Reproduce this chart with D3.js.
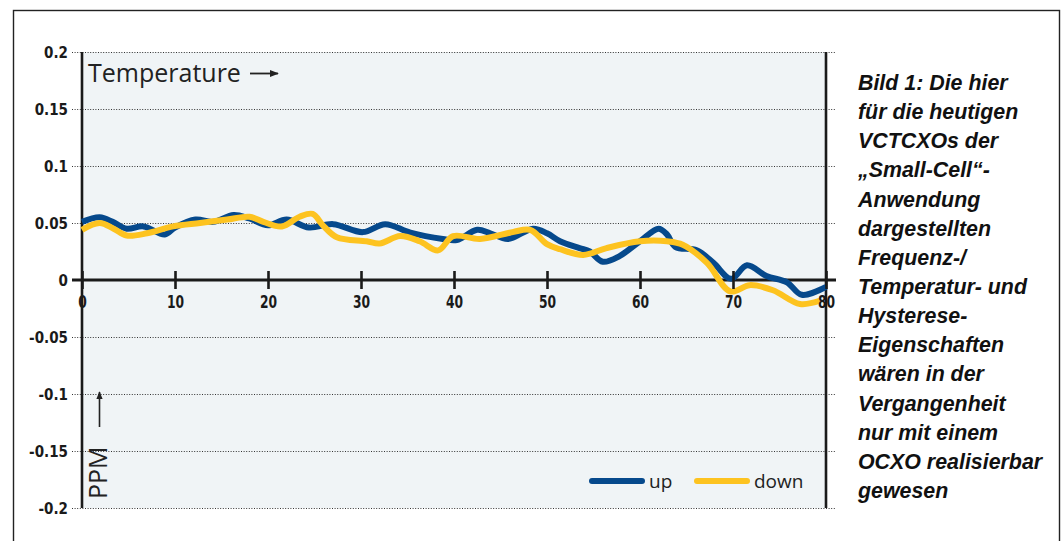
<!DOCTYPE html>
<html>
<head>
<meta charset="utf-8">
<script src="https://cdn.jsdelivr.net/npm/d3@7"></script>
<style>
  html, body { margin: 0; padding: 0; background: #fff; }
  svg { display: block; }
</style>
</head>
<body>
<svg id="chart" width="1064" height="541"></svg>
<script>
// Temperature (°C) readings and frequency deviation (PPM) for the up and down sweeps
const upTemp = [0, 1.9, 3.3, 4.8, 6.6, 8.9, 10, 12.2, 14.1, 16.3, 18, 20, 22, 24.4, 27, 30.2, 32.6, 35.3, 38.8, 40.3, 42.5, 43.9, 45.8, 48.5, 50, 51.4, 53.5, 54.6, 56, 57.8, 60, 62, 62.9, 63.8, 66.1, 67.9, 69.8, 71.5, 73.6, 75.8, 77.4, 80];
const upPPM  = [0.051, 0.055, 0.051, 0.045, 0.047, 0.040, 0.046, 0.053, 0.051, 0.057, 0.054, 0.048, 0.053, 0.046, 0.049, 0.042, 0.049, 0.0415, 0.036, 0.035, 0.044, 0.041, 0.036, 0.045, 0.041, 0.034, 0.028, 0.025, 0.016, 0.021, 0.034, 0.045, 0.040, 0.029, 0.026, 0.015, 0.001, 0.013, 0.0035, -0.002, -0.013, -0.006];

const downTemp = [0, 1.9, 3.4, 4.8, 7, 9.8, 12.7, 15.6, 18, 19.5, 21.5, 23.4, 24.8, 25.9, 27.4, 30.6, 32, 34.2, 36.3, 38.3, 39.9, 42.8, 46.3, 48.2, 50, 51.4, 53.9, 56.4, 60, 62.9, 64.6, 67.2, 69.7, 71.8, 74.3, 77.2, 79.4];
const downPPM  = [0.044, 0.050, 0.045, 0.039, 0.041, 0.047, 0.050, 0.053, 0.0555, 0.051, 0.047, 0.0555, 0.058, 0.048, 0.0375, 0.034, 0.032, 0.0385, 0.034, 0.026, 0.0385, 0.036, 0.042, 0.044, 0.0315, 0.027, 0.022, 0.028, 0.034, 0.034, 0.031, 0.015, -0.010, -0.0045, -0.009, -0.021, -0.018];

const xTicks = [0, 10, 20, 30, 40, 50, 60, 70, 80];
const yTicks = [0.2, 0.15, 0.1, 0.05, 0, -0.05, -0.1, -0.15, -0.2];
const yTickLabels = ["0.2", "0.15", "0.1", "0.05", "0", "-0.05", "-0.1", "-0.15", "-0.2"];

const seriesNames = ["up", "down"];
const seriesColors = ["#06498c", "#fdc320"];

const captionLines = [
  "Bild 1: Die hier",
  "für die heutigen",
  "VCTCXOs der",
  "„Small-Cell“-",
  "Anwendung",
  "dargestellten",
  "Frequenz-/",
  "Temperatur- und",
  "Hysterese-",
  "Eigenschaften",
  "wären in der",
  "Vergangenheit",
  "nur mit einem",
  "OCXO realisierbar",
  "gewesen"
];

const svg = d3.select("#chart");

const plotLeft = 82, plotRight = 826, plotTop = 52, plotBottom = 508;
const x = d3.scaleLinear().domain([0, 80]).range([plotLeft, plotRight]);
const y = d3.scaleLinear().domain([-0.2, 0.2]).range([plotBottom, plotTop]);

// outer frame
svg.append("rect")
  .attr("x", 13.5).attr("y", 10.5)
  .attr("width", 1046).attr("height", 560)
  .attr("fill", "#fff").attr("stroke", "#222").attr("stroke-width", 1.4);

// plot background
svg.append("rect")
  .attr("x", plotLeft).attr("y", plotTop)
  .attr("width", plotRight - plotLeft).attr("height", plotBottom - plotTop)
  .attr("fill", "#f0f4f6");

// dotted grid + y labels
const yAxis = d3.axisLeft(y)
  .tickValues(yTicks)
  .tickSize(-(836 - 72))
  .tickPadding(4)
  .tickFormat((d, i) => yTickLabels[i]);

const gy = svg.append("g").attr("transform", "translate(72,0)").call(yAxis);
gy.select(".domain").remove();
gy.selectAll(".tick line")
  .attr("stroke", "#333")
  .attr("stroke-width", 1)
  .attr("stroke-dasharray", "1,1.6");
gy.selectAll(".tick text")
  .attr("fill", "#1a1a1a")
  .attr("dy", "0.36em")
  .style("font-family", "'DejaVu Sans Condensed', 'DejaVu Sans', sans-serif")
  .style("font-weight", "bold")
  .style("font-size", "15px");

// vertical frame lines of the plot
[plotLeft, plotRight].forEach(px => {
  svg.append("line")
    .attr("x1", px).attr("x2", px)
    .attr("y1", plotTop).attr("y2", plotBottom)
    .attr("stroke", "#1a1a1a").attr("stroke-width", 2.6);
});

// zero line with ticks
svg.append("line")
  .attr("x1", 72).attr("x2", 836)
  .attr("y1", y(0)).attr("y2", y(0))
  .attr("stroke", "#1a1a1a").attr("stroke-width", 3);

const xAxis = d3.axisBottom(x)
  .tickValues(xTicks)
  .tickSize(0)
  .tickPadding(0)
  .tickFormat(d3.format("d"));
const gx = svg.append("g").attr("transform", `translate(0,${y(0)})`).call(xAxis);
gx.select(".domain").remove();
gx.selectAll(".tick line").remove();
gx.selectAll(".tick")
  .append("line")
  .attr("y1", -9).attr("y2", 9)
  .attr("stroke", "#1a1a1a").attr("stroke-width", 2.6);
// tall, narrow bold digits below the zero line
gx.selectAll(".tick text")
  .attr("y", 28).attr("dy", 0)
  .attr("transform", "scale(0.74,1)")
  .attr("fill", "#1a1a1a")
  .style("font-family", "'DejaVu Sans Condensed', 'DejaVu Sans', sans-serif")
  .style("font-weight", "bold")
  .style("font-size", "18.5px");

// curves
const line = d3.line()
  .x(d => x(d[0]))
  .y(d => y(d[1]))
  .curve(d3.curveCatmullRom.alpha(0.5));

const upData = d3.zip(upTemp, upPPM);
const downData = d3.zip(downTemp, downPPM);

svg.append("path")
  .datum(upData)
  .attr("d", line)
  .attr("fill", "none")
  .attr("stroke", seriesColors[0])
  .attr("stroke-width", 6)
  .attr("stroke-linejoin", "round");

svg.append("path")
  .datum(downData)
  .attr("d", line)
  .attr("fill", "none")
  .attr("stroke", seriesColors[1])
  .attr("stroke-width", 6)
  .attr("stroke-linejoin", "round");

// keep the x labels above the curves
gx.raise();

// axis titles with arrows
const titleFont = "'Open Sans', 'Noto Sans', sans-serif";
svg.append("text")
  .attr("x", 88).attr("y", 82)
  .attr("fill", "#222")
  .style("font-family", titleFont)
  .style("font-size", "25px")
  .text("Temperature");

const defs = svg.append("defs");
defs.append("marker")
  .attr("id", "arrow")
  .attr("viewBox", "0 0 10 10")
  .attr("refX", 9).attr("refY", 5)
  .attr("markerWidth", 5).attr("markerHeight", 5)
  .attr("orient", "auto")
  .append("path")
  .attr("d", "M0,1 L10,5 L0,9 Z")
  .attr("fill", "#222");

svg.append("line")
  .attr("x1", 250).attr("x2", 278)
  .attr("y1", 73.5).attr("y2", 73.5)
  .attr("stroke", "#222").attr("stroke-width", 1.8)
  .attr("marker-end", "url(#arrow)");

svg.append("text")
  .attr("transform", "translate(107,499) rotate(-90)")
  .attr("fill", "#222")
  .style("font-family", titleFont)
  .style("font-size", "25px")
  .text("PPM");

svg.append("line")
  .attr("x1", 99.5).attr("x2", 99.5)
  .attr("y1", 427).attr("y2", 392)
  .attr("stroke", "#222").attr("stroke-width", 1.6)
  .attr("marker-end", "url(#arrow)");

// legend
const legendX = [592, 697];
seriesNames.forEach((name, i) => {
  svg.append("line")
    .attr("x1", legendX[i]).attr("x2", legendX[i] + 50)
    .attr("y1", 481).attr("y2", 481)
    .attr("stroke", seriesColors[i])
    .attr("stroke-width", 6)
    .attr("stroke-linecap", "round");
  svg.append("text")
    .attr("x", legendX[i] + 57).attr("y", 488)
    .attr("fill", "#222")
    .style("font-family", titleFont)
    .style("font-size", "19px")
    .text(name);
});

// caption
const cap = svg.append("g").attr("transform", "translate(858,0) scale(0.93,1)");
cap.selectAll("text")
  .data(captionLines)
  .join("text")
  .attr("x", 0)
  .attr("y", (d, i) => 90 + i * 29.15)
  .attr("fill", "#111")
  .style("font-family", "'Liberation Sans', Arial, sans-serif")
  .style("font-weight", "bold")
  .style("font-style", "italic")
  .style("font-size", "23px")
  .text(d => d);
</script>
</body>
</html>
